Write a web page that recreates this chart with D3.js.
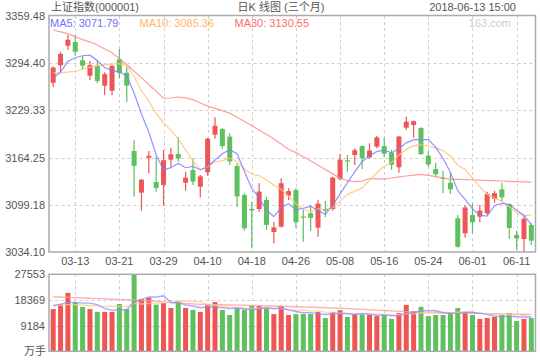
<!DOCTYPE html>
<html><head><meta charset="utf-8">
<script src="https://cdn.jsdelivr.net/npm/d3@7"></script>
<style>
body{margin:0;background:#fff}
svg{display:block}
text{font-family:"Liberation Sans","Noto Sans CJK SC",Arial,sans-serif}
</style>
</head><body>
<svg id="chart" width="540" height="360"></svg>
<script>
const dates = ["03-08","03-09","03-12","03-13","03-14","03-15","03-16","03-19","03-20","03-21","03-22","03-23","03-26","03-27","03-28","03-29","03-30",
"04-02","04-03","04-04","04-09","04-10","04-11","04-12","04-13","04-16","04-17","04-18","04-19","04-20","04-23","04-24","04-25","04-26","04-27",
"05-02","05-03","05-04","05-07","05-08","05-09","05-10","05-11","05-14","05-15","05-16","05-17","05-18","05-21","05-22","05-23","05-24","05-25","05-28","05-29","05-30","05-31",
"06-01","06-04","06-05","06-06","06-07","06-08","06-11","06-12","06-13"];
const opens = [3267.5,3291.5,3318.5,3323.6,3298.4,3277.2,3290.5,3263.4,3256.5,3299.8,3281.3,3173.3,3115.9,3164.1,3130.6,3126.5,3161.4,3169.2,3129.6,3147.2,3124.1,3144.0,3195.8,3203.7,3193.1,3152.7,3112.7,3093.5,3093.4,3105.8,3061.7,3069.0,3111.7,3119.6,3083.0,3087.5,3067.6,3093.4,3093.4,3134.7,3160.5,3167.8,3180.2,3164.6,3179.3,3180.2,3171.0,3150.9,3205.5,3209.2,3205.1,3166.9,3148.5,3136.5,3129.6,3080.6,3059.9,3085.1,3082.8,3087.5,3107.2,3120.5,3100.3,3057.5,3052.0,3071.3];
const highs = [3290.0,3309.8,3333.3,3333.3,3304.7,3297.4,3298.8,3281.9,3292.0,3313.9,3289.6,3188.5,3134.7,3173.3,3165.5,3174.7,3177.9,3192.6,3144.8,3163.3,3140.3,3191.7,3219.8,3205.1,3197.8,3156.4,3115.0,3103.4,3128.8,3110.3,3075.9,3135.7,3121.9,3121.9,3092.0,3098.9,3105.8,3104.4,3137.9,3169.2,3167.8,3177.1,3181.0,3184.0,3194.0,3191.7,3174.7,3194.0,3220.6,3215.5,3206.0,3173.3,3157.2,3146.2,3143.4,3085.1,3098.9,3101.2,3098.9,3117.2,3118.6,3129.6,3100.8,3063.5,3083.7,3073.7];
const lows = [3261.2,3282.7,3312.6,3304.7,3286.0,3271.2,3266.7,3250.1,3250.1,3273.6,3241.3,3110.3,3091.0,3142.6,3117.2,3097.9,3151.7,3158.6,3118.6,3126.5,3109.5,3139.3,3190.3,3176.5,3154.1,3096.6,3063.5,3039.2,3089.7,3064.4,3046.1,3068.0,3105.8,3066.8,3048.3,3063.5,3055.2,3081.9,3091.0,3133.4,3144.8,3154.1,3148.5,3163.0,3177.1,3164.6,3147.2,3143.4,3202.3,3191.7,3167.8,3151.7,3137.1,3115.0,3114.1,3040.0,3053.8,3059.9,3075.0,3085.1,3102.1,3103.4,3052.0,3036.9,3034.5,3043.8];
const closes = [3288.4,3307.2,3326.7,3310.2,3291.0,3291.9,3269.9,3279.3,3290.6,3281.0,3263.5,3152.8,3133.7,3166.7,3122.3,3160.5,3168.9,3163.2,3136.6,3131.1,3138.3,3190.3,3208.1,3180.2,3159.1,3110.7,3066.8,3091.4,3117.4,3071.5,3068.0,3128.9,3118.0,3075.0,3082.2,3081.2,3100.9,3091.0,3136.7,3161.5,3159.2,3174.4,3163.3,3174.0,3192.1,3169.6,3154.3,3193.3,3213.8,3214.4,3169.0,3154.7,3141.3,3135.1,3120.5,3041.4,3095.5,3075.1,3091.2,3114.2,3115.2,3109.5,3067.2,3052.8,3079.8,3049.8];
const ma5 = [3274,3282,3297,3302,3304.7,3305.4,3297.9,3288.5,3284.5,3282.5,3276.9,3253.4,3224.3,3199.5,3167.8,3147.2,3150.4,3156.3,3150.3,3152.1,3147.6,3151.9,3160.9,3169.6,3175.2,3169.7,3145.0,3121.6,3109.1,3091.6,3083.0,3095.4,3100.8,3092.3,3094.4,3097.1,3091.5,3086.1,3098.4,3114.3,3129.9,3144.6,3159.0,3166.5,3172.6,3174.7,3170.7,3176.7,3184.6,3189.1,3189.0,3189.0,3178.6,3162.9,3144.1,3118.6,3106.8,3093.5,3084.7,3083.5,3098.2,3101.0,3099.5,3091.8,3084.9,3071.79];
const ma10 = [3281,3281,3282,3283,3286,3289,3291,3292.5,3293,3293.6,3291.1,3275.7,3256.4,3242.0,3225.2,3212.0,3201.9,3190.3,3174.9,3159.9,3147.4,3151.2,3158.6,3160.0,3163.6,3158.7,3148.4,3141.3,3139.3,3133.4,3126.4,3120.2,3111.2,3100.7,3093.0,3090.0,3093.5,3093.4,3095.3,3104.3,3113.5,3118.0,3122.5,3132.4,3143.4,3152.3,3157.6,3167.8,3175.6,3180.8,3181.8,3179.9,3177.7,3173.8,3166.6,3153.8,3147.9,3136.1,3123.8,3113.8,3108.4,3103.9,3096.5,3088.3,3084.2,3085.36];
const ma30 = [3340.2,3337.7,3335.1,3330.8,3327.0,3323.9,3319.4,3314.1,3308.7,3301.0,3292.6,3283.4,3274.5,3265.0,3255.7,3246.1,3246.4,3247.8,3246.7,3244.2,3239.5,3235.3,3232.2,3228.8,3225.6,3219.9,3214.0,3208.1,3202.2,3196.2,3190.0,3182.9,3175.8,3171.1,3165.4,3159.6,3153.6,3147.7,3141.8,3136.0,3132.4,3131.0,3131.9,3135.4,3134.9,3134.5,3136.1,3137.6,3138.9,3140.1,3141.1,3139.8,3138.1,3136.3,3134.3,3134.1,3133.8,3133.4,3133.1,3132.7,3132.4,3132.0,3131.6,3131.2,3130.8,3130.55];
const volumes = [15100,16800,20900,17500,15900,15100,14100,14100,14100,16900,15100,27553,18700,19200,16700,17300,15500,18000,15500,14800,14100,16900,17600,14800,13000,15500,14900,16200,16200,15500,13300,16200,13000,13300,13300,13300,14100,11900,14100,14700,12300,13300,13300,13000,12600,13000,11600,13700,16600,14400,15900,12600,13000,13000,13700,15500,14100,13000,11600,11900,12300,13000,13700,10800,11600,11900];
const volMa5 = [16300,16900,17500,17500,17240,17240,16700,15340,14660,14860,14860,17551,18471,19491,19451,19891,17480,17340,16600,16220,15580,15860,15780,15640,15280,15560,15160,14880,15160,15660,15220,15480,14840,14260,13820,13820,13400,13180,13340,13620,13420,13260,13540,13320,12900,13040,12700,12780,13500,13860,14440,14640,14500,13780,13640,13560,13860,13860,13580,13220,12580,12360,12500,12340,12280,12200];
const volMa10 = [16400,16500,16700,16700,16600,16400,16200,16100,16050,16050,16050,17125,16905,17075,17155,17375,17515,17905,18045,17835,17735,16670,16560,16120,15750,15570,15510,15330,15400,15470,15390,15320,14860,14710,14740,14520,14440,14010,13800,13720,13620,13330,13360,13330,13260,13230,12980,13160,13410,13380,13740,13670,13640,13640,13750,14000,14250,14180,13680,13430,13070,13110,13180,12960,12750,12390];
const volMa30 = [19500,19420,19280,19200,19070,18990,18860,18780,18650,18570,18440,18350,18170,18020,17820,17670,17480,17330,17140,16980,16800,16750,16680,16640,16570,16530,16460,16420,16350,16300,16220,16110,16040,15930,15860,15750,15680,15570,15500,15400,15280,15120,15010,14860,14740,14590,14480,14320,14200,14140,14060,14010,13920,13880,13790,13740,13660,13600,13560,13490,13460,13390,13360,13290,13260,13200];
const priceTicks = [3034.10,3099.18,3164.25,3229.33,3294.40,3359.48];
const volTicks = [9184,18369,27553];
const dateTicks = ["03-13","03-21","03-29","04-10","04-18","04-26","05-08","05-16","05-24","06-01","06-11"];

const svg = d3.select("#chart");
const L = 49.5, R = 535, T = 16, B = 252, VT = 274.3, VB = 351.3;
const RED = "#ee5555", GREEN = "#5ec05e", TXT = "#555";

const x = d3.scaleBand().domain(dates).range([L, R]).paddingInner(0.32).paddingOuter(0.16);
const cx = d => x(d) + x.bandwidth() / 2;
const y = d3.scaleLinear().domain([priceTicks[0], priceTicks[5]]).range([B, T]);
const yv = d3.scaleLinear().domain([0, 27553]).range([VB, VT]);

// gridlines
const grid = svg.append("g").attr("stroke", "#cfcfcf").attr("stroke-dasharray", "3,3").attr("stroke-width", 1);
priceTicks.slice(1, 5).forEach(v => grid.append("line").attr("x1", L).attr("x2", R).attr("y1", Math.round(y(v)) + 0.5).attr("y2", Math.round(y(v)) + 0.5));
volTicks.slice(0, 2).forEach(v => grid.append("line").attr("x1", L).attr("x2", R).attr("y1", Math.round(yv(v)) + 0.5).attr("y2", Math.round(yv(v)) + 0.5));
dateTicks.forEach(d => {
  const xx = Math.round(cx(d)) + 0.5;
  grid.append("line").attr("x1", xx).attr("x2", xx).attr("y1", T).attr("y2", B);
  grid.append("line").attr("x1", xx).attr("x2", xx).attr("y1", VT).attr("y2", VB);
});

// candles
const idx = d3.range(dates.length);
const candles = svg.append("g");
idx.forEach(i => {
  const up = closes[i] >= opens[i];
  const col = up ? RED : GREEN;
  const xc = cx(dates[i]);
  candles.append("line").attr("x1", xc).attr("x2", xc).attr("y1", y(highs[i])).attr("y2", y(lows[i])).attr("stroke", col).attr("stroke-width", 1.2);
  const top = y(Math.max(opens[i], closes[i])), bot = y(Math.min(opens[i], closes[i]));
  candles.append("rect").attr("x", x(dates[i])).attr("width", x.bandwidth()).attr("y", top).attr("height", Math.max(1.2, bot - top)).attr("fill", col);
});

// MA lines
const mkLine = (scale) => d3.line().x((d, i) => cx(dates[i])).y(d => scale(d));
const maDefs = [[ma30, "#ff8c8c"], [ma10, "#ffc27a"], [ma5, "#8080ff"]];
maDefs.forEach(([arr, c]) => svg.append("path").attr("d", mkLine(y)(arr)).attr("fill", "none").attr("stroke", c).attr("stroke-width", 1.2).attr("opacity", 0.85));

// volume bars
idx.forEach(i => {
  const col = closes[i] >= opens[i] ? RED : GREEN;
  svg.append("rect").attr("x", x(dates[i])).attr("width", x.bandwidth()).attr("y", yv(volumes[i])).attr("height", VB - yv(volumes[i])).attr("fill", col);
});
const vDefs = [[volMa30, "#ff9a9a"], [volMa10, "#ffcf95"], [volMa5, "#8c8cff"]];
vDefs.forEach(([arr, c]) => svg.append("path").attr("d", mkLine(yv)(arr)).attr("fill", "none").attr("stroke", c).attr("stroke-width", 1.4).attr("opacity", 0.75));

// frames
svg.append("rect").attr("x", L - 0.5).attr("y", T - 0.5).attr("width", R - L + 1).attr("height", B - T + 0.5).attr("fill", "none").attr("stroke", "#aaa").attr("stroke-width", 1.5);
svg.append("rect").attr("x", L - 0.5).attr("y", VT).attr("width", R - L + 1).attr("height", VB - VT).attr("fill", "none").attr("stroke", "#aaa").attr("stroke-width", 1.5);

// axes
const yAxis = d3.axisLeft(y).tickValues(priceTicks).tickSize(0).tickPadding(4).tickFormat(d3.format(".2f"));
const ga = svg.append("g").attr("transform", `translate(${L - 0.5},0)`).call(yAxis);
const vAxis = d3.axisLeft(yv).tickValues(volTicks).tickSize(0).tickPadding(4).tickFormat(d3.format("d"));
const gv = svg.append("g").attr("transform", `translate(${L - 0.5},0)`).call(vAxis);
const xAxis = d3.axisBottom(x).tickValues(dateTicks).tickSize(0).tickPadding(5);
const gx = svg.append("g").attr("transform", `translate(0,${B})`).call(xAxis);
[ga, gv, gx].forEach(g => {
  g.select(".domain").remove();
  g.selectAll("text").attr("fill", TXT).attr("font-size", 11).attr("font-family", "Liberation Sans, Arial, sans-serif");
});
svg.append("text").attr("x", 46).attr("y", 355).attr("text-anchor", "end").attr("font-size", 11).attr("fill", TXT).text("万手");

// header
svg.append("text").attr("x", 51).attr("y", 10.5).attr("font-size", 11).attr("fill", TXT).text("上证指数(000001)");
svg.append("text").attr("x", 281).attr("y", 10.5).attr("text-anchor", "middle").attr("font-size", 11).attr("fill", TXT).text("日K 线图 (三个月)");
svg.append("text").attr("x", 516).attr("y", 10.5).attr("text-anchor", "end").attr("font-size", 11).attr("fill", TXT).text("2018-06-13 15:00");

// legend
const legend = [["MA5: " + ma5[65].toFixed(2), "#7070ff", 50], ["MA10: " + ma10[65].toFixed(2), "#ffb65e", 139.5], ["MA30: " + ma30[65].toFixed(2), "#ff6b6b", 234.5]];
legend.forEach(([t, c, xx]) => svg.append("text").attr("x", xx).attr("y", 27).attr("font-size", 11).attr("fill", c).text(t));
svg.append("text").attr("x", 511).attr("y", 27).attr("text-anchor", "end").attr("font-size", 11).attr("fill", "#cccccc").text("163.com");
</script>
</body></html>
